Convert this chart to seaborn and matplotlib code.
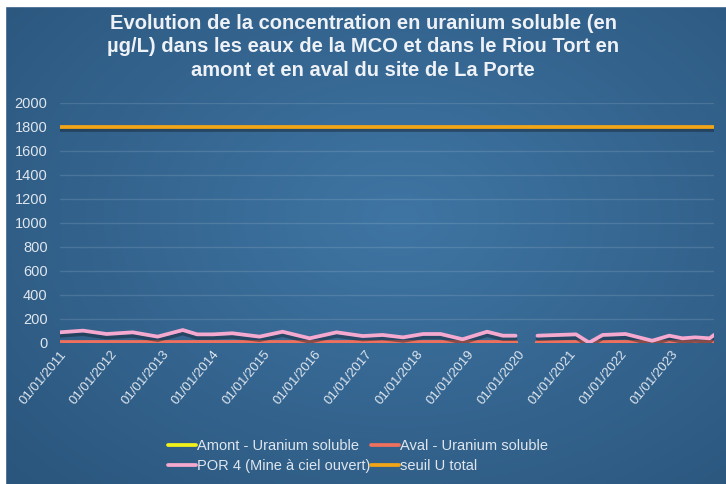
import matplotlib
matplotlib.use("Agg")
import matplotlib.pyplot as plt
import matplotlib.dates as mdates
import matplotlib.patheffects as pe
from matplotlib.lines import Line2D
import numpy as np
import pandas as pd
import seaborn as sns

# sampling dates (None value = no measurement -> gap in the curves)
dates = ["2011-01-01", "2011-06-15", "2011-12-01", "2012-06-05", "2012-12-01",
         "2013-05-30", "2013-09-10", "2014-01-01", "2014-05-20", "2014-12-01",
         "2015-05-15", "2015-11-25", "2016-06-05", "2016-12-10", "2017-05-01",
         "2017-09-25", "2018-02-15", "2018-06-20", "2018-11-25", "2019-05-20",
         "2019-09-10", "2019-12-10", "2020-03-01", "2020-05-15", "2021-02-15",
         "2021-05-20", "2021-08-25", "2022-02-05", "2022-08-15", "2022-12-15",
         "2023-03-20", "2023-06-20", "2023-10-01", "2023-11-01"]
por4 = [89, 103, 75, 89, 53, 108, 72, 72, 81, 53,
        94, 39, 89, 58, 67, 47, 75, 75, 31, 94,
        61, 61, None, 61, 72, 3, 67, 75, 19, 61,
        39, 47, 39, 67]
aval = [10, 10, 10, 10, 10, 10, 10, 10, 10, 10,
        10, 10, 10, 10, 10, 10, 10, 10, 10, 10,
        10, 10, None, 10, 10, 10, 10, 10, 10, 10,
        10, 10, 10, 10]
amont = [4, 4, 4, 4, 4, 4, 4, 4, 4, 4,
         4, 4, 4, 4, 4, 4, 4, 4, 4, 4,
         4, 4, None, 4, 4, 4, 4, 4, 4, 4,
         4, 4, 4, 4]
seuil = 1800
year_ticks = [str(y) + "-01-01" for y in range(2011, 2024)]

title = ("Evolution de la concentration en uranium soluble (en\n"
         "µg/L) dans les eaux de la MCO et dans le Riou Tort en\n"
         "amont et en aval du site de La Porte")

c_amont = "#f2f21a"
c_aval = "#f0705e"
c_por = "#f6a9cf"
c_seuil = "#f2a516"
txt = "#dfe6ee"

sns.set_theme(style="white")
plt.rcParams["font.family"] = ["Liberation Sans", "DejaVu Sans"]

fig = plt.figure(figsize=(7.26, 4.84), dpi=100)

# gradient background
bg = fig.add_axes([0, 0, 1, 1], zorder=-10)
yy, xx = np.mgrid[0:1:200j, 0:1:300j]
r = np.sqrt(((xx - 0.55) / 0.75) ** 2 + ((yy - 0.45) / 0.8) ** 2)
bg.imshow(-r, cmap=matplotlib.colors.LinearSegmentedColormap.from_list(
    "bgc", ["#2a557c", "#3f75a3"]), aspect="auto", extent=[0, 1, 0, 1])
bg.axis("off")
# white border of the screenshot
fig.patches.append(matplotlib.patches.Rectangle((0, 0), 5 / 726, 1, transform=fig.transFigure,
                                                color="white", zorder=5))
fig.patches.append(matplotlib.patches.Rectangle((0, 1 - 6 / 484), 1, 6 / 484,
                                                transform=fig.transFigure, color="white", zorder=5))

ax = fig.add_axes([60 / 726, 1 - 343 / 484, 654 / 726, 240 / 484])
ax.set_facecolor("none")

df = pd.DataFrame({"date": pd.to_datetime(dates), "por4": por4, "aval": aval, "amont": amont})
df["segment"] = df["por4"].isna().cumsum()
df = df.dropna()
df["seuil"] = seuil

shadow = [pe.SimpleLineShadow(offset=(0, -2.5), shadow_color="#14202c", alpha=0.45), pe.Normal()]

for col, c in [("amont", c_amont), ("aval", c_aval), ("por4", c_por)]:
    sns.lineplot(data=df, x="date", y=col, units="segment", estimator=None,
                 color=c, linewidth=2.7, ax=ax, path_effects=shadow)
sns.lineplot(data=df, x="date", y="seuil", color=c_seuil, linewidth=2.7, ax=ax,
             path_effects=shadow)

ax.set_ylim(0, 2000)
ax.set_yticks(range(0, 2001, 200))
ax.set_xlim(df["date"].min(), df["date"].max())
ax.set_xticks(pd.to_datetime(year_ticks))
ax.xaxis.set_major_formatter(mdates.DateFormatter("%d/%m/%Y"))
ax.grid(axis="y", color="#ffffff", alpha=0.12, linewidth=1)
ax.grid(axis="x", visible=False)
for s in ax.spines.values():
    s.set_visible(False)
ax.tick_params(axis="y", colors=txt, labelsize=10.5, length=0, pad=9)
ax.tick_params(axis="x", colors=txt, labelsize=9.5, length=0, pad=4)
for lab in ax.get_xticklabels():
    lab.set_rotation(50)
    lab.set_ha("right")
    lab.set_rotation_mode("anchor")
ax.set_xlabel("")
ax.set_ylabel("")

fig.text(0.5, 1 - 47 / 484, title, ha="center", va="center", color="#eef2f6",
         fontsize=14.5, fontweight="bold", linespacing=1.3)

handles = [Line2D([], [], color=c_amont, lw=2.7), Line2D([], [], color=c_por, lw=2.7),
           Line2D([], [], color=c_aval, lw=2.7), Line2D([], [], color=c_seuil, lw=2.7)]
labels = ["Amont - Uranium soluble", "POR 4 (Mine à ciel ouvert)",
          "Aval - Uranium soluble", "seuil U total"]
fig.legend(handles, labels, ncol=2, loc="center", bbox_to_anchor=(358 / 726, 1 - 456 / 484),
           frameon=False, labelcolor=txt, fontsize=10.5, handlelength=1.9, handletextpad=0.05,
           columnspacing=0.1, labelspacing=0.4)

fig.savefig("out.png", dpi=100)
